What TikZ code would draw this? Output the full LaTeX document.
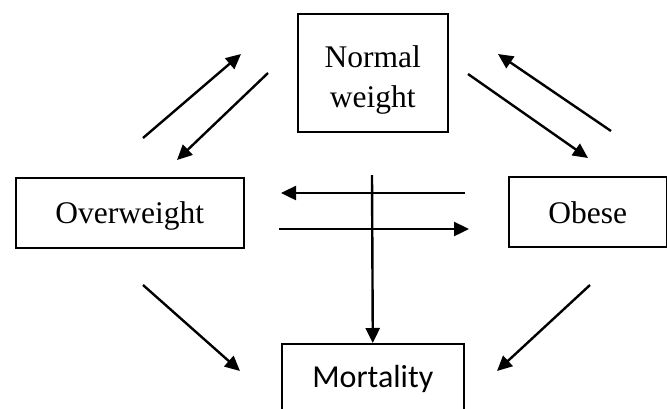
\documentclass[tikz,border=0pt]{standalone}
\usepackage{fontspec}
\setmainfont{Liberation Serif}
\newfontfamily\mortfont{Carlito}
\usetikzlibrary{arrows.meta}
\begin{document}
\begin{tikzpicture}[x=1pt,y=-1pt,
  box/.style={draw, line width=1.6pt, inner sep=0pt, anchor=north west,
    font=\fontsize{31.5}{40}\selectfont},
  arr/.style={line width=2.4pt, -{Triangle[length=15pt,width=14pt]}}]
\useasboundingbox (0,0) rectangle (667,408);
% boxes
\node[box, minimum width=150pt, text height=54pt, text depth=64pt] (nw) at (297,13)
  {\begin{tabular}[t]{@{}c@{}}Normal\\weight\end{tabular}};
\node[box, minimum width=228pt, text height=46pt, text depth=24pt] (ow) at (15,177) {Overweight};
\node[box, minimum width=158pt, text height=47pt, text depth=23pt] (ob) at (508,176) {Obese};
\node[box, minimum width=182pt, text height=44pt, text depth=44pt,
  font=\mortfont\fontsize{32}{40}\selectfont] (mo) at (281,343) {Mortality};
% arrow end points
\coordinate (a1s) at (143,138); \coordinate (a1e) at (241,54);
\coordinate (a2s) at (268,73);  \coordinate (a2e) at (177,160);
\coordinate (a3s) at (611,131); \coordinate (a3e) at (498,54);
\coordinate (a4s) at (468,74);  \coordinate (a4e) at (588,158);
\coordinate (a5s) at (465,193); \coordinate (a5e) at (281,193);
\coordinate (a6s) at (279,229); \coordinate (a6e) at (469,229);
\coordinate (vs) at (372,175);
\coordinate (a7s) at (143,285); \coordinate (a7e) at (240,371);
\coordinate (a8s) at (590,285); \coordinate (a8e) at (497,371);
% arrows
\draw[arr] (a1s) -- (a1e);
\draw[arr] (a2s) -- (a2e);
\draw[arr] (a3s) -- (a3e);
\draw[arr] (a4s) -- (a4e);
\draw[arr] (a5s) -- (a5e);
\draw[arr] (a6s) -- (a6e);
\draw[arr] (vs) -- (mo.north);
\draw[arr] (a7s) -- (a7e);
\draw[arr] (a8s) -- (a8e);
\end{tikzpicture}
\end{document}
